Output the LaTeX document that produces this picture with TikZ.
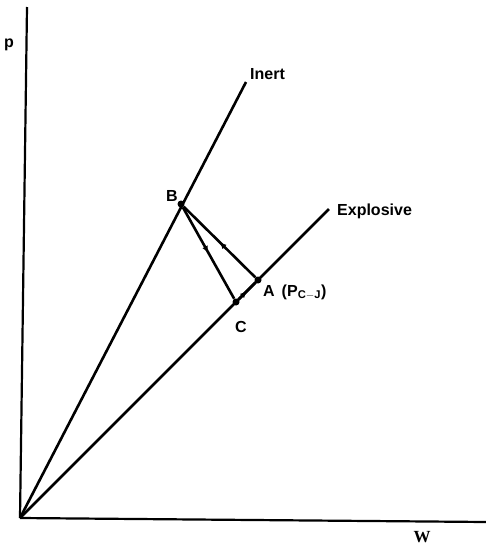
\documentclass[tikz,border=0pt]{standalone}
\usepackage{fontspec}
\setmainfont{Liberation Sans}
\newfontfamily\wfont{Liberation Serif}
\usetikzlibrary{decorations.markings,arrows.meta}
\begin{document}
\begin{tikzpicture}[x=1pt,y=-1pt,
  axis/.style={line width=2.2pt},
  ln/.style={line width=2.6pt},
  lbl/.style={font=\bfseries\fontsize{16}{16}\selectfont,inner sep=0pt},
  dotn/.style={circle,fill,inner sep=0pt,minimum size=7pt},
  midarrow/.style={postaction={decorate,decoration={markings,mark=at position 0.5 with {\arrow{Latex[length=7pt,width=6pt]}}}}}]
\useasboundingbox (0,0) rectangle (486,552);
\coordinate (O) at (20,518);
\coordinate (ytop) at (27,7);
\coordinate (xend) at (486,522);
\coordinate (inertEnd) at (246,82);
\coordinate (explEnd) at (329,209);
\node[dotn] (B) at (181,204) {};
\node[dotn] (A) at (258,280) {};
\node[dotn] (C) at (236,302) {};
\draw[axis] (O) -- (ytop);
\draw[axis] (O) -- (xend);
\draw[ln] (O) -- (inertEnd);
\draw[ln] (O) -- (explEnd);
\draw[ln,midarrow] (A) -- (B);
\draw[ln,midarrow] (B) -- (C);
\draw[ln,midarrow] (C) -- (A);
\node[lbl,anchor=west] (pl) at (4,45) {p};
\node[lbl,anchor=west] (il) at (250,74) {Inert};
\node[lbl,anchor=west] (el) at (337,211) {Explosive};
\node[lbl] (bl) at (172,196) {B};
\node[lbl,anchor=west] (al) at (263,292) {A\hspace{7pt}(P$_{\mathbf{C-J}}$)};
\node[lbl] (cl) at (241,327) {C};
\node[font=\wfont\bfseries\fontsize{17}{17}\selectfont,inner sep=0pt] (wl) at (422,537) {W};
\end{tikzpicture}
\end{document}
